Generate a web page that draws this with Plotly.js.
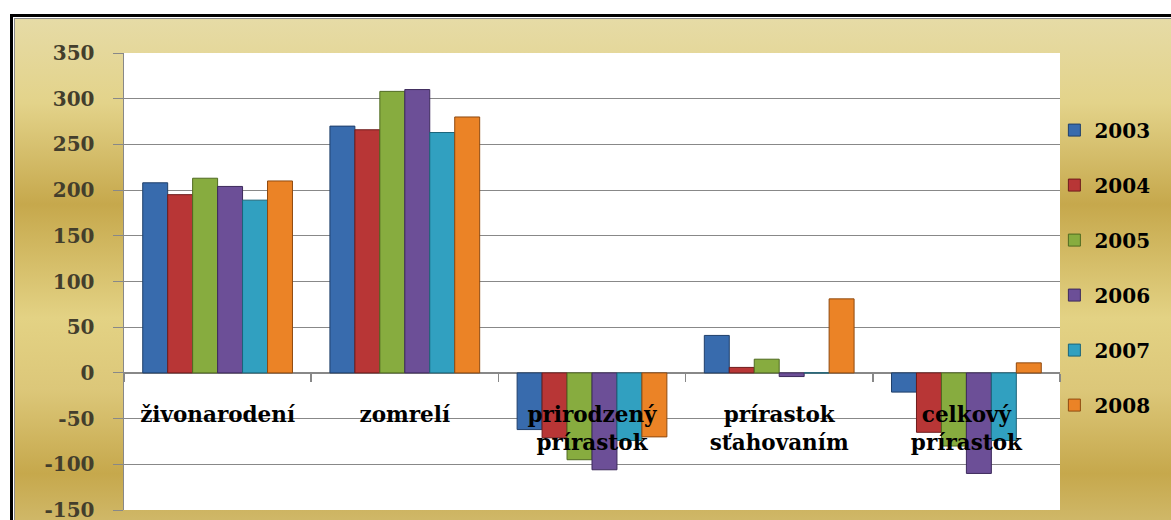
<!DOCTYPE html>
<html>
<head>
<meta charset="utf-8">
<script src="https://cdn.plot.ly/plotly-3.0.1.min.js"></script>
<style>
  html, body { margin: 0; padding: 0; background: #ffffff; width: 1171px; height: 520px; overflow: hidden; }
  #frame {
    position: absolute; left: 10px; top: 14px; width: 1300px; height: 600px;
    border-top: 3px solid #000; border-left: 3px solid #000;
  }
  #inner {
    position: absolute; left: 1px; top: 1px; right: 0; bottom: 0;
    border-top: 1px solid #8a8a8a; border-left: 1px solid #8a8a8a;
    background: linear-gradient(to bottom, #e6dba6 0%, #e3d38a 14%, #c6a84c 31%, #e3d284 50%, #dcc779 62%, #c6a84c 76%, #e3d8a2 100%);
  }
  #chart { position: absolute; left: 0; top: 0; width: 1171px; height: 520px; }
</style>
</head>
<body>
<div id="frame"><div id="inner"></div></div>
<div id="chart"></div>
<script>
const categories = ["živonarodení", "zomrelí", "prirodzený<br>prírastok", "prírastok<br>sťahovaním", "celkový<br>prírastok"];
const years = ["2003", "2004", "2005", "2006", "2007", "2008"];
const v2003 = [208, 270, -62, 41, -21];
const v2004 = [195, 266, -71, 6, -65];
const v2005 = [213, 308, -95, 15, -80];
const v2006 = [204, 310, -106, -4, -110];
const v2007 = [189, 263, -74, 0, -74];
const v2008 = [210, 280, -70, 81, 11];
const yTicks = [-150, -100, -50, 0, 50, 100, 150, 200, 250, 300, 350];

const FONT = "DejaVu Serif";
const series = [v2003, v2004, v2005, v2006, v2007, v2008];
const fills = ["#386bad", "#b83636", "#87ac3f", "#6c4f97", "#31a0c0", "#eb8326"];
const edges = ["#1f3f6a", "#6e1c1c", "#4f6a20", "#3d2a5c", "#1b6479", "#8f4a10"];

const traces = series.map((vals, i) => ({
  type: "bar",
  name: years[i],
  x: categories,
  y: vals,
  legendgroup: years[i],
  marker: { color: fills[i], line: { color: edges[i], width: 1 } },
  hoverinfo: "x+y+name"
}));

const layout = {
  width: 1171, height: 520,
  margin: { l: 124, r: 111, t: 53, b: 10, pad: 0 },
  paper_bgcolor: "rgba(0,0,0,0)",
  plot_bgcolor: "#ffffff",
  barmode: "group",
  bargap: 0.2,
  bargroupgap: 0,
  font: { family: FONT, color: "#000" },
  xaxis: {
    type: "category",
    anchor: "free",
    position: 0.3,
    showline: false,
    ticks: "outside",
    tickson: "boundaries",
    ticklen: 8,
    tickwidth: 1.5,
    tickcolor: "#888888",
    showgrid: false,
    showticklabels: true,
    ticklabelstandoff: 27,
    tickfont: { family: FONT, size: 21.5, color: "#000", weight: "bold" },
    fixedrange: true
  },
  yaxis: {
    range: [-150, 350],
    tickvals: yTicks,
    ticktext: yTicks.map(String),
    showgrid: true,
    gridcolor: "#888888",
    gridwidth: 1.2,
    zeroline: true,
    zerolinecolor: "#888888",
    zerolinewidth: 1.5,
    showline: true,
    linecolor: "#888888",
    linewidth: 1.5,
    ticks: "outside",
    ticklen: 10,
    tickcolor: "#888888",
    ticklabelstandoff: 14,
    ticklabeloverflow: "allow",
    tickfont: { family: FONT, size: 20, color: "#433e2c", weight: "bold" },
    fixedrange: true
  },
  legend: {
    x: 0.994, xanchor: "left",
    y: 0.874, yanchor: "top",
    bgcolor: "rgba(0,0,0,0)",
    borderwidth: 0,
    traceorder: "grouped",
    tracegroupgap: 26,
    itemwidth: 30,
    font: { family: FONT, size: 20, color: "#000", weight: "bold" }
  },
  showlegend: true
};

Plotly.newPlot("chart", traces, layout, { displayModeBar: false, staticPlot: true });
</script>
</body>
</html>
